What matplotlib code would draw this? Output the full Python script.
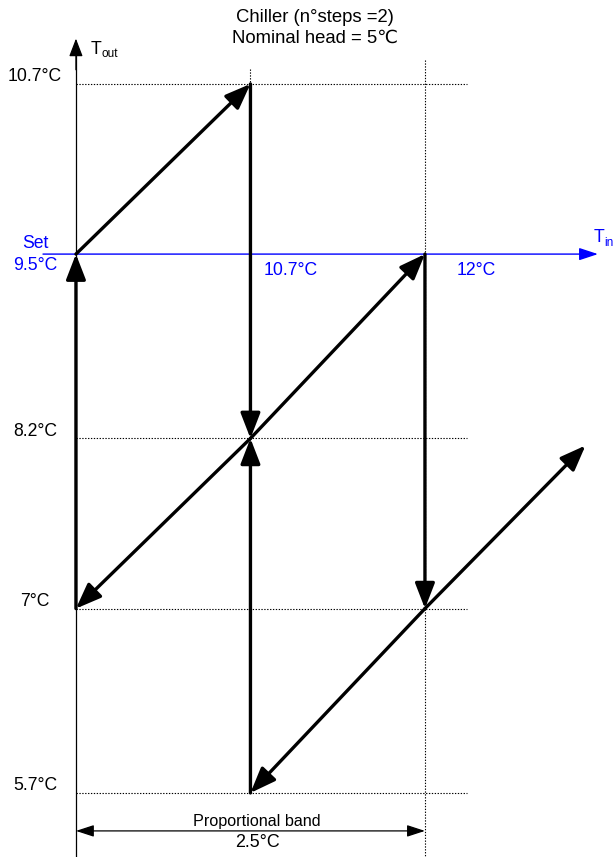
import matplotlib
matplotlib.use("Agg")
import matplotlib.pyplot as plt

plt.rcParams["font.family"] = ["Liberation Sans", "DejaVu Sans"]

# Diagram values (degrees C)
set_point = 9.5
band = 2.5
tin_ticks = [set_point + band / 2, set_point + band]
tin_labels = ["10.7°C", "12°C"]
tout_levels = [10.7, 8.2, 7.0, 5.7]
tout_labels = ["10.7°C", "8.2°C", "7°C", "5.7°C"]

# step arrows: (T_in start, T_out start, T_in end, T_out end)
arrows = [
    (9.5, 9.5, 10.75, 10.7),
    (10.75, 10.7, 10.75, 8.2),
    (10.75, 5.7, 10.75, 8.2),
    (10.75, 8.2, 12.0, 9.5),
    (10.75, 8.2, 9.5, 7.0),
    (9.5, 7.0, 9.5, 9.5),
    (12.0, 9.5, 12.0, 7.0),
    (12.0, 7.0, 13.15, 8.15),
    (12.0, 7.0, 10.75, 5.7),
]

BLUE = "#0000ff"
DOT = (0, (1.2, 1.4))
FS = 12.7

fig = plt.figure(figsize=(6.13, 8.57), dpi=100)
ax = fig.add_axes([0, 0, 1, 1])
ax.set_xlim(8.956, 13.347)
ax.set_ylim(5.248, 11.292)
ax.axis("off")

# dotted guide lines
for lev in tout_levels:
    ax.plot([set_point, 12.30], [lev, lev], color="black", lw=0.8, ls=DOT)
ax.plot([tin_ticks[0]] * 2, [10.806, 5.7], color="black", lw=0.8, ls=DOT)
ax.plot([tin_ticks[1]] * 2, [10.869, 5.248], color="black", lw=0.8, ls=DOT)

# T_out axis
ax.plot([set_point, set_point], [5.248, 10.9], color="black", lw=0.9)
ax.annotate("", xy=(set_point, 11.02), xytext=(set_point, 10.8),
            arrowprops=dict(arrowstyle="-|>,head_length=1.1,head_width=0.42",
                            mutation_scale=10, color="black", lw=0.9,
                            shrinkA=0, shrinkB=0))

# T_in axis (blue)
ax.annotate("", xy=(13.239, set_point), xytext=(9.264, set_point),
            arrowprops=dict(arrowstyle="-|>,head_length=1.15,head_width=0.38",
                            mutation_scale=10, color=BLUE, lw=1.0,
                            shrinkA=0, shrinkB=0))

# step arrows
for x0, y0, x1, y1 in arrows:
    ax.annotate("", xy=(x1, y1), xytext=(x0, y0),
                arrowprops=dict(arrowstyle="-|>,head_length=1.55,head_width=0.6",
                                mutation_scale=10, color="black", lw=2.4,
                                shrinkA=0, shrinkB=0))

# proportional band
ax.annotate("", xy=(set_point + band, 5.432), xytext=(set_point, 5.432),
            arrowprops=dict(arrowstyle="<|-|>,head_length=1.1,head_width=0.36",
                            mutation_scale=10, color="black", lw=0.9,
                            shrinkA=0, shrinkB=0))
ax.text(10.797, 5.50, "Proportional band", ha="center", va="center", fontsize=11.6)
ax.text(10.797, 5.353, f"{band}°C", ha="center", va="center", fontsize=12.9)

# labels
for lev, lab in zip(tout_levels, tout_labels):
    ax.text(9.206, lev + 0.05, lab, ha="center", va="center", fontsize=FS)
ax.text(9.206, set_point + 0.078, "Set", ha="center", va="center",
        fontsize=FS, color=BLUE)
ax.text(9.206, set_point - 0.078, f"{set_point}°C", ha="center", va="center",
        fontsize=FS, color=BLUE)
ax.text(11.04, 9.387, tin_labels[0], ha="center", va="center", fontsize=FS, color=BLUE)
ax.text(12.365, 9.387, tin_labels[1], ha="center", va="center", fontsize=FS, color=BLUE)

fig.text(91 / 613, 1 - 49 / 857, "T", ha="left", va="center", fontsize=FS)
fig.text(101 / 613, 1 - 54 / 857, "out", ha="left", va="center", fontsize=8.5)
fig.text(594 / 613, 1 - 237 / 857, "T", ha="left", va="center", fontsize=FS, color=BLUE)
fig.text(604 / 613, 1 - 243 / 857, "in", ha="left", va="center", fontsize=8.5, color=BLUE)

fig.text(315 / 613, 1 - 18 / 857, "Chiller (n°steps =2)", ha="center", va="center", fontsize=13.3)
fig.text(315 / 613, 1 - 38 / 857, "Nominal head = 5℃", ha="center", va="center", fontsize=13.3)

fig.savefig("out.png", dpi=100)
